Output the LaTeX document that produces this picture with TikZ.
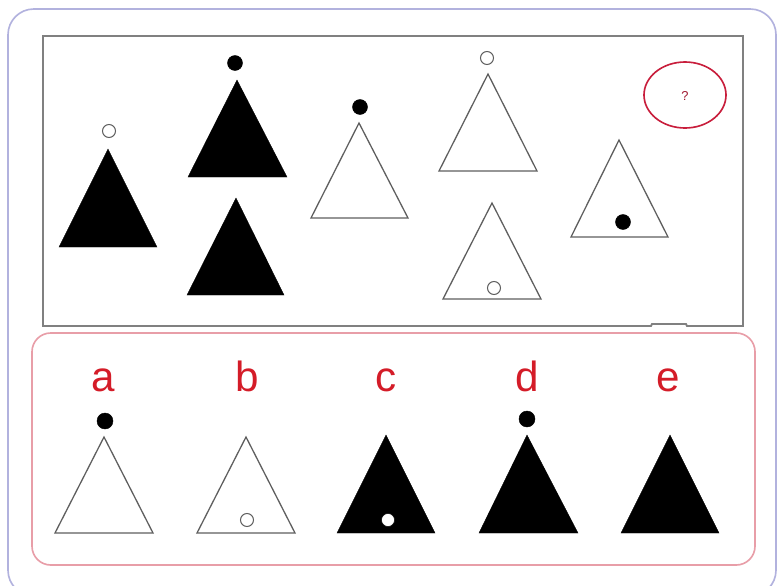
\documentclass[tikz,border=0pt]{standalone}
\usepackage{fontspec}
\setmainfont{Liberation Sans}
\definecolor{framelav}{RGB}{178,178,222}
\definecolor{boxgray}{RGB}{128,128,128}
\definecolor{boxpink}{RGB}{232,158,168}
\definecolor{labred}{RGB}{212,28,40}
\definecolor{ringred}{RGB}{200,30,60}
\definecolor{edgegray}{RGB}{95,95,95}
\tikzset{
  filledtri/.style={fill=black, draw=black, line width=0.3pt},
  opentri/.style={draw=edgegray, line width=1.1pt, fill=white},
  blackdot/.style={fill=black},
  ringdot/.style={draw=edgegray, line width=0.9pt, fill=white},
  whitedot/.style={fill=white},
  optlabel/.style={text=labred, font=\fontsize{36}{42}\selectfont, inner sep=0pt, anchor=base}
}
\begin{document}
\begin{tikzpicture}[x=0.03cm,y=-0.03cm]
		%\draw[help lines] (0,0) grid (779,586);
		\useasboundingbox (0,0) rectangle (779,586);
		\clip (0,0) rectangle (779,586);
		\draw[framelav, line width=1.4pt, rounded corners=22] (8,9) rectangle (776,596);%outer frame
		\draw[boxgray, line width=1.6pt] (43,36) -- (743,36) -- (743,326) -- (687,326) -- (686,324) -- (652,324) -- (651,326) -- (43,326) -- cycle;%question box
		\draw[boxpink, line width=1.4pt, rounded corners=16] (32,333) rectangle (755,565);%answer box
		
		% question row
		\draw[filledtri] (108,149) -- (157,247) -- (59,247) -- cycle;
		\draw[ringdot] (109,131) circle[radius=6.5];
		
		\draw[filledtri] (237,80) -- (287,177) -- (188,177) -- cycle;
		\draw[blackdot] (235,63) circle[radius=7.5];
		\draw[filledtri] (236,198) -- (284,295) -- (187,295) -- cycle;
		
		\draw[opentri] (359,123) -- (408,218) -- (311,218) -- cycle;
		\draw[blackdot] (360,107) circle[radius=7.5];
		
		\draw[opentri] (488,74) -- (537,171) -- (439,171) -- cycle;
		\draw[ringdot] (487,58) circle[radius=6.5];
		\draw[opentri] (492,203) -- (541,299) -- (443,299) -- cycle;
		\draw[ringdot] (494,288) circle[radius=6.5];
		
		\draw[opentri] (619,140) -- (668,237) -- (571,237) -- cycle;
		\draw[blackdot] (623,222) circle[radius=7.5];
		
		\draw[ringred, line width=1.4pt] (685,95) ellipse[x radius=41, y radius=33];
		\node[text=ringred!80!black, font=\fontsize{11}{13}\selectfont] (qm) at (685,96) {?};
		
		% answer row
		\node[optlabel] (la) at (103,391) {a};
		\node[optlabel] (lb) at (247,391) {b};
		\node[optlabel] (lc) at (386,391) {c};
		\node[optlabel] (ld) at (527,391) {d};
		\node[optlabel] (le) at (668,391) {e};
		
		\draw[opentri] (104,437) -- (153,533) -- (55,533) -- cycle;%a
		\draw[blackdot] (105,421) circle[radius=8];
		
		\draw[opentri] (246,437) -- (295,533) -- (197,533) -- cycle;%b
		\draw[ringdot] (247,520) circle[radius=6.5];
		
		\draw[filledtri] (386,435) -- (435,533) -- (337,533) -- cycle;%c
		\draw[whitedot] (388,520) circle[radius=6.5];
		
		\draw[filledtri] (527,435) -- (578,533) -- (479,533) -- cycle;%d
		\draw[blackdot] (527,419) circle[radius=8];
		
		\draw[filledtri] (670,435) -- (719,533) -- (621,533) -- cycle;%e
\end{tikzpicture}
\end{document}
